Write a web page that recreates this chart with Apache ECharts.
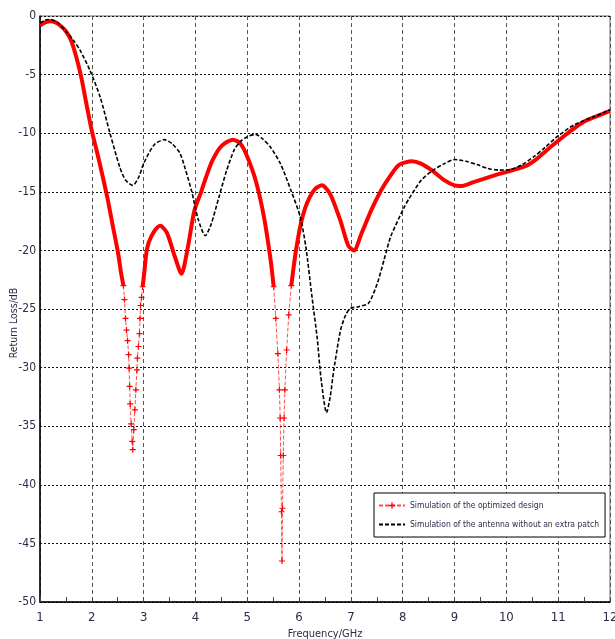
<!DOCTYPE html>
<html>
<head>
<meta charset="utf-8">
<script src="https://cdn.jsdelivr.net/npm/echarts@6/dist/echarts.min.js"></script>
<style>
html,body{margin:0;padding:0;background:#fff;}
#chart{width:615px;height:639px;}
</style>
</head>
<body>
<div id="chart"></div>
<script>
// ---- data ----
var xTicks = [1,2,3,4,5,6,7,8,9,10,11,12];
var yTicks = [0,-5,-10,-15,-20,-25,-30,-35,-40,-45,-50];

var optFreq = [1.0,1.1,1.2,1.3,1.4,1.5,1.6,1.7,1.8,1.9,2.0,2.1,2.2,2.3,2.4,2.51,2.56,2.61,2.63,2.65,2.67,2.69,2.71,2.72,2.73,2.74,2.76,2.78,2.79,2.81,2.83,2.85,2.87,2.88,2.90,2.92,2.93,2.94,2.96,2.98,3.01,3.03,3.06,3.1,3.2,3.32,3.45,3.6,3.73,3.85,3.98,4.11,4.2,4.33,4.5,4.72,4.87,5.0,5.16,5.32,5.45,5.51,5.55,5.59,5.62,5.635,5.645,5.66,5.67,5.68,5.695,5.71,5.725,5.76,5.8,5.85,5.93,6.03,6.15,6.3,6.44,6.6,6.8,6.95,7.06,7.2,7.4,7.58,7.75,7.93,8.18,8.35,8.57,8.8,9.0,9.15,9.35,9.56,9.8,10.01,10.2,10.4,10.6,10.78,11.0,11.17,11.35,11.55,11.8,12.0];
var optLoss = [-0.8,-0.55,-0.45,-0.55,-0.85,-1.3,-2.1,-3.5,-5.3,-7.6,-9.8,-11.6,-13.5,-15.5,-17.8,-20.3,-21.8,-23.0,-24.2,-25.8,-26.8,-27.7,-28.9,-30.05,-31.6,-33.1,-34.8,-36.3,-37.0,-35.3,-33.6,-31.9,-30.2,-29.2,-28.2,-27.1,-25.8,-24.7,-24.0,-23.1,-22.0,-21.1,-20.0,-19.3,-18.4,-17.9,-18.5,-20.5,-22.0,-19.8,-16.6,-15.0,-13.8,-12.3,-11.1,-10.55,-10.9,-12.0,-14.0,-17.1,-20.8,-23.1,-25.8,-28.8,-31.9,-34.3,-37.5,-42.3,-46.5,-42.0,-37.5,-34.3,-31.9,-28.5,-25.5,-23.0,-20.3,-17.8,-16.0,-14.8,-14.45,-15.2,-17.5,-19.6,-20.0,-18.6,-16.5,-14.9,-13.7,-12.7,-12.4,-12.6,-13.2,-14.0,-14.45,-14.5,-14.2,-13.9,-13.55,-13.3,-13.05,-12.75,-12.15,-11.45,-10.65,-10.05,-9.45,-8.9,-8.45,-8.1];

var refFreq = [1.0,1.1,1.2,1.35,1.52,1.65,1.77,1.96,2.16,2.35,2.54,2.65,2.79,2.9,3.0,3.2,3.4,3.55,3.7,3.8,3.93,4.05,4.19,4.3,4.45,4.6,4.75,4.87,5.0,5.16,5.3,5.45,5.64,5.84,6.02,6.13,6.25,6.35,6.42,6.53,6.6,6.67,6.8,6.9,6.99,7.15,7.34,7.51,7.64,7.77,8.03,8.12,8.36,8.57,8.8,9.0,9.22,9.45,9.64,9.85,10.08,10.3,10.53,10.75,10.98,11.3,11.69,12.0];
var refLoss = [-0.6,-0.35,-0.3,-0.6,-1.4,-2.1,-2.9,-4.6,-6.9,-10.0,-12.9,-14.0,-14.45,-13.8,-12.6,-11.0,-10.55,-10.9,-11.7,-13.0,-15.0,-17.3,-18.75,-17.8,-15.5,-13.2,-11.4,-10.7,-10.3,-10.1,-10.5,-11.2,-12.6,-14.85,-17.1,-19.7,-24.0,-27.5,-30.8,-33.85,-32.5,-30.2,-26.8,-25.5,-24.95,-24.8,-24.5,-22.8,-20.8,-18.8,-16.3,-15.6,-14.0,-13.2,-12.6,-12.25,-12.4,-12.7,-13.0,-13.15,-13.1,-12.7,-12.0,-11.2,-10.3,-9.3,-8.6,-8.0];

var optName = 'Simulation of the optimized design';
var refName = 'Simulation of the antenna without an extra patch';

// ---- build series data ----
var DIP = -23.5;
var plus = 'path://M4,0H6V4H10V6H6V10H4V6H0V4H4Z';
var thickData = [], thinData = [], refData = [];
for (var i = 0; i < optFreq.length; i++) {
  var y = optLoss[i];
  thickData.push(y > DIP ? [optFreq[i], y] : [optFreq[i], null]);
  var inDip = y <= DIP || (i > 0 && optLoss[i-1] <= DIP) || (i < optLoss.length-1 && optLoss[i+1] <= DIP);
  if (inDip) {
    thinData.push(y <= -20.5 ? {value: [optFreq[i], y]} : {value: [optFreq[i], y], symbol: 'none'});
  } else {
    thinData.push({value: [optFreq[i], null], symbol: 'none'});
  }
}
for (var j = 0; j < refFreq.length; j++) refData.push([refFreq[j], refLoss[j]]);

var labelFont = '"DejaVu Sans Condensed","Liberation Sans",Arial,sans-serif';
var chart = echarts.init(document.getElementById('chart'), null, {renderer:'canvas'});
chart.setOption({
  backgroundColor: '#ffffff',
  animation: false,
  grid: {left: 40, right: 5, top: 16, bottom: 37, containLabel: false, outerBoundsMode: 'none',
         show: true, borderColor: '#666', borderWidth: 1},
  legend: {
    orient: 'vertical', left: 374, top: 493,
    backgroundColor: '#fff', borderColor: '#000', borderWidth: 1,
    padding: [8, 6, 8, 4], itemGap: 10, itemWidth: 26, itemHeight: 8,
    textStyle: {fontFamily: labelFont, fontSize: 8.5, color: '#2b2b4b'},
    data: [
      {name: optName},
      {name: refName, itemStyle: {opacity: 0}}
    ]
  },
  xAxis: {
    type: 'value', min: 1, max: 12, interval: 1,
    name: 'Frequency/GHz', nameLocation: 'middle', nameGap: 27, nameMoveOverlap: false,
    nameTextStyle: {fontFamily: labelFont, fontSize: 11, color: '#2b2b4b'},
    axisLine: {show: true, onZero: false, lineStyle: {color: '#000', width: 1.5}},
    axisTick: {show: true, inside: true, length: 5, lineStyle: {color: '#444'}},
    minorTick: {show: true, splitNumber: 2, length: 5, lineStyle: {color: '#444'}},
    axisLabel: {fontFamily: labelFont, fontSize: 13, color: '#2b2b4b', margin: 9,
      formatter: function (v) { return xTicks.indexOf(v) >= 0 ? String(v) : ''; }},
    splitLine: {show: true, lineStyle: {color: '#555', type: [4, 3], width: 1}}
  },
  yAxis: {
    type: 'value', min: -50, max: 0, interval: 5,
    name: 'Return Loss/dB', nameLocation: 'middle', nameGap: 20, nameMoveOverlap: false,
    nameTextStyle: {fontFamily: labelFont, fontSize: 10.5, color: '#2b2b4b', padding: [0, 28, 0, 0]},
    axisLine: {show: true, onZero: false, lineStyle: {color: '#000', width: 1.5}},
    axisTick: {show: false},
    axisLabel: {fontFamily: labelFont, fontSize: 12, color: '#2b2b4b', margin: 4,
      formatter: function (v) { return yTicks.indexOf(v) >= 0 ? String(v) : ''; }},
    splitLine: {show: true, lineStyle: {color: '#111', type: [2, 2], width: 1}}
  },
  series: [
    {
      name: optName, type: 'line', data: thinData, connectNulls: false, smooth: false,
      symbol: plus, symbolSize: 6, showSymbol: true,
      itemStyle: {color: '#ff0000'},
      lineStyle: {color: '#ff2020', width: 1, type: [4, 2], opacity: 0.8},
      z: 3
    },
    {
      name: 'optThick', type: 'line', data: thickData, connectNulls: false, smooth: 0.25,
      showSymbol: false, symbol: 'none',
      lineStyle: {color: '#ff0000', width: 4},
      z: 3
    },
    {
      name: refName, type: 'line', data: refData, smooth: 0.25,
      showSymbol: false, symbol: 'none',
      itemStyle: {color: '#000'},
      lineStyle: {color: '#000', width: 1.6, type: [4, 2]},
      z: 4
    }
  ]
});
</script>
</body>
</html>
